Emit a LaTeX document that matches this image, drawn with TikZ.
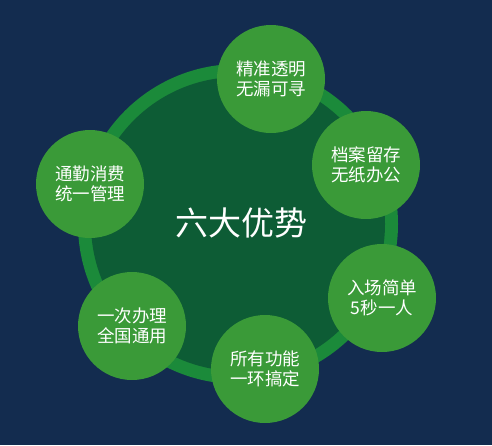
\documentclass[tikz,border=0pt]{standalone}
\usepackage{fontspec}
\newfontfamily\cjk{Noto Sans CJK SC}
\definecolor{bg}{HTML}{132C4F}
\definecolor{ring}{HTML}{1B8A3A}
\definecolor{inner}{HTML}{0D5C35}
\definecolor{dot}{HTML}{3A9A38}
\tikzset{
  feat/.style={circle, fill=dot, minimum size=108pt, inner sep=0pt, text=white,
    align=center, font=\cjk\fontsize{17.5}{20.5}\selectfont},
}
\begin{document}
\begin{tikzpicture}[x=1pt,y=-1pt]
\fill[bg] (0,0) rectangle (492,445);
\useasboundingbox (0,0) rectangle (492,445);
\node[circle, fill=ring, minimum size=320pt, inner sep=0pt] (big) at (238,224) {};
\node[circle, fill=inner, minimum size=294pt, inner sep=0pt] (core) at (238,224) {};
\node[text=white, font=\cjk\fontsize{33}{38}\selectfont] (title) at (241,223) {六大优势};
\node[feat] (f1) at (271,79) {精准透明\\无漏可寻};
\node[feat] (f2) at (366,165) {档案留存\\无纸办公};
\node[feat] (f3) at (382,298) {入场简单\\5秒一人};
\node[feat] (f4) at (265,369) {所有功能\\一环搞定};
\node[feat] (f5) at (132,326) {一次办理\\全国通用};
\node[feat] (f6) at (90,184) {通勤消费\\统一管理};
\end{tikzpicture}
\end{document}
